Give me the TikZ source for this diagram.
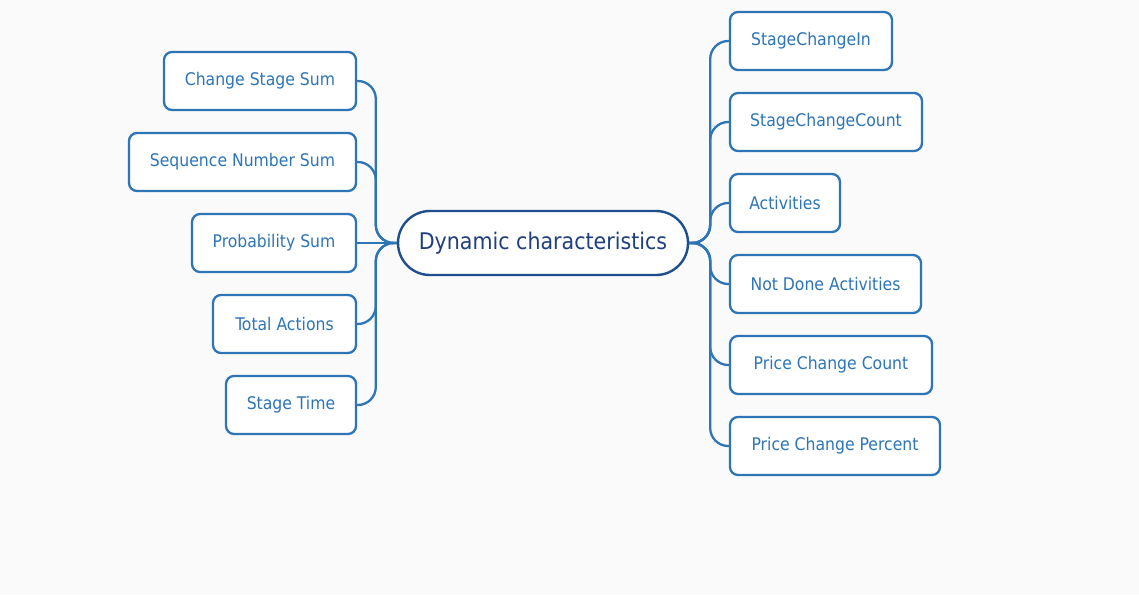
\documentclass[tikz,border=0pt]{standalone}
\usepackage{fontspec}
\setmainfont{DejaVu Sans Condensed}
\usetikzlibrary{shapes.misc}
\definecolor{bg}{HTML}{FAFAFA}
\definecolor{boxblue}{HTML}{2E75B6}
\definecolor{mainblue}{HTML}{1F4E8C}
\definecolor{maintext}{HTML}{1F3F7F}
\begin{document}
\begin{tikzpicture}[x=1pt,y=-1pt,
  leaf/.style={draw=boxblue,line width=2.3pt,fill=white,rounded corners=8pt,
    minimum height=58pt,inner sep=0pt,text=boxblue,font=\fontsize{17.4}{20}\selectfont},
  centre/.style={draw=mainblue,line width=2.4pt,fill=white,rounded rectangle,
    minimum height=64pt,minimum width=290pt,inner sep=0pt,text=maintext,
    font=\fontsize{22.9}{26}\selectfont},
  link/.style={draw=boxblue,line width=2.3pt,rounded corners=18pt}]
\fill[bg] (0,0) rectangle (1139,595);
\useasboundingbox (0,0) rectangle (1139,595);
\node[centre] (c) at (543,243) {Dynamic characteristics};
% left
\node[leaf,minimum width=192pt] (l1) at (260,81) {Change Stage Sum};
\node[leaf,minimum width=227pt] (l2) at (242.5,162) {Sequence Number Sum};
\node[leaf,minimum width=164pt] (l3) at (274,243) {Probability Sum};
\node[leaf,minimum width=143pt] (l4) at (284.5,324) {Total Actions};
\node[leaf,minimum width=130pt] (l5) at (291,405) {Stage Time};
% right
\node[leaf,minimum width=162pt] (r1) at (811,41) {StageChangeIn};
\node[leaf,minimum width=192pt] (r2) at (826,122) {StageChangeCount};
\node[leaf,minimum width=110pt] (r3) at (785,203) {Activities};
\node[leaf,minimum width=191pt] (r4) at (825.5,284) {Not Done Activities};
\node[leaf,minimum width=202pt] (r5) at (831,365) {Price Change Count};
\node[leaf,minimum width=210pt] (r6) at (835,446) {Price Change Percent};
% links
\foreach \n in {l1,l2,l4,l5}
  \draw[link] (c.west) -- ++(-21,0) |- (\n.east);
\draw[link] (c.west) -- (l3.east);
\foreach \n in {r1,r2,r3,r4,r5,r6}
  \draw[link] (c.east) -- ++(21,0) |- (\n.west);
\end{tikzpicture}
\end{document}
